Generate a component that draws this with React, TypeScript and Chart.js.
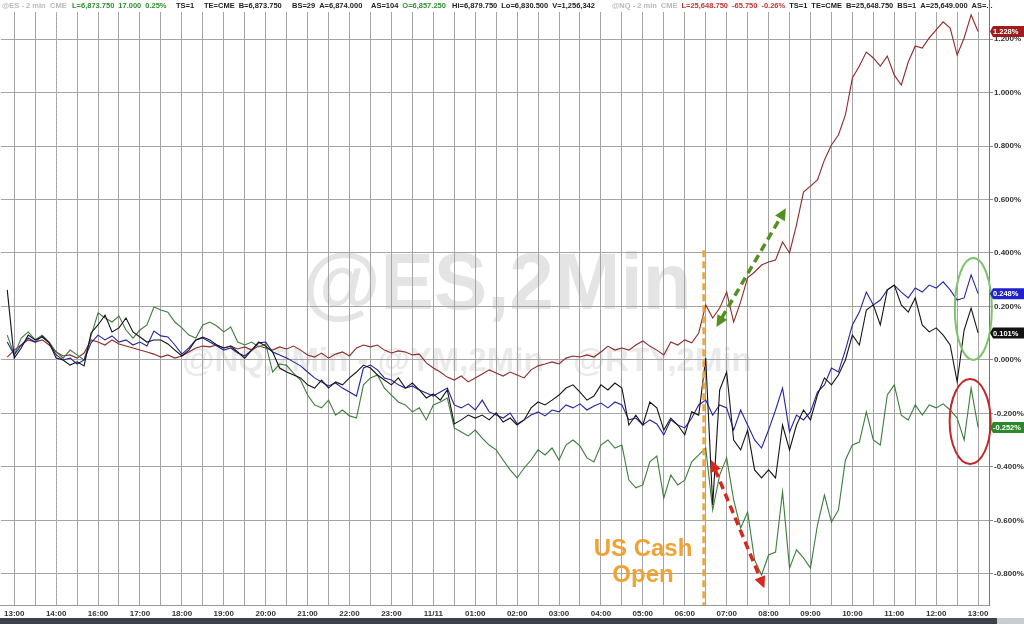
import React, { useEffect, useRef } from 'react';
import { Chart, registerables } from 'chart.js';

Chart.register(...registerables);

// ---- axis data ----
const hourLabels = ['13:00', '14:00', '16:00', '17:00', '18:00', '19:00', '20:00', '21:00', '22:00', '23:00', '11/11', '01:00', '02:00', '03:00', '04:00', '05:00', '06:00', '07:00', '08:00', '09:00', '10:00', '11:00', '12:00', '13:00'];
const yTickValues = [-0.8, -0.6, -0.4, -0.2, 0, 0.2, 0.4, 0.6, 0.8, 1.0, 1.2];
const T0 = -1 / 6; // first sample, in hour-slots from 13:00
const STEP = 1 / 6; // 10-minute samples

// ---- series (% change) ----
const nqValues = [
  0.011, 0.037, 0.056, 0.075, 0.067, 0.075, 0.056, 0.030, 0.015, 0.019,
  0.007, 0.026, 0.075, 0.067, 0.056, 0.075, 0.060, 0.052, 0.045, 0.037,
  0.030, 0.022, 0.011, 0.019, 0.007, 0.015, 0.030, 0.045, 0.052, 0.049,
  0.056, 0.045, 0.052, 0.041, 0.049, 0.037, 0.052, 0.045, 0.037, 0.049,
  0.041, 0.052, 0.037, 0.019, 0.011, 0.026, 0.007, 0.022, 0.030, 0.015,
  0.045, 0.056, 0.049, 0.056, 0.037, 0.026, 0.034, 0.030, 0.019, 0.022,
  -0.011, -0.030, -0.045, -0.064, -0.075, -0.060, -0.082, -0.067, -0.052, -0.037,
  -0.049, -0.060, -0.045, -0.056, -0.067, -0.037, -0.022, -0.015, -0.007, -0.015,
  0.007, 0.015, 0.011, 0.019, 0.011, 0.030, 0.052, 0.037, 0.045, 0.037,
  0.056, 0.071, 0.052, 0.037, 0.019, 0.067, 0.056, 0.075, 0.064, 0.101,
  0.206, 0.157, 0.194, 0.254, 0.142, 0.217, 0.307, 0.329, 0.355, 0.366,
  0.374, 0.441, 0.400, 0.505, 0.628, 0.650, 0.673, 0.748, 0.804, 0.841,
  0.916, 1.054, 1.099, 1.151, 1.129, 1.099, 1.136, 1.065, 1.028, 1.114,
  1.174, 1.166, 1.204, 1.234, 1.264, 1.241, 1.140, 1.204, 1.290, 1.228,
];

const esValues = [
  0.262, 0.007, 0.045, 0.093, 0.075, 0.086, 0.064, 0.007, 0.0, -0.019,
  -0.007, -0.022, 0.101, 0.131, 0.168, 0.105, 0.120, 0.157, 0.105, 0.086,
  0.067, 0.075, 0.075, 0.060, 0.037, 0.015, 0.037, 0.075, 0.086, 0.075,
  0.056, 0.045, 0.052, 0.030, 0.007, 0.037, 0.067, 0.052, 0.030, -0.030,
  -0.045, -0.056, -0.067, -0.093, -0.105, -0.075, -0.105, -0.082, -0.093, -0.067,
  -0.045, -0.019, -0.030, -0.056, -0.075, -0.093, -0.067, -0.105, -0.086, -0.112,
  -0.142, -0.127, -0.150, -0.112, -0.239, -0.224, -0.206, -0.217, -0.206, -0.224,
  -0.198, -0.232, -0.217, -0.243, -0.224, -0.179, -0.157, -0.168, -0.150, -0.131,
  -0.105, -0.093, -0.120, -0.150, -0.135, -0.093, -0.112, -0.086, -0.105, -0.243,
  -0.206, -0.243, -0.157, -0.179, -0.262, -0.217, -0.243, -0.280, -0.194, -0.206,
  0.007, -0.542, -0.112, -0.045, -0.299, -0.336, -0.262, -0.411, -0.441, -0.411,
  -0.441, -0.243, -0.336, -0.243, -0.187, -0.224, -0.131, -0.067, -0.093, -0.056,
  0.0, 0.093, 0.056, 0.187, 0.206, 0.131, 0.262, 0.280, 0.206, 0.179,
  0.232, 0.131, 0.105, 0.120, 0.093, 0.056, -0.082, 0.112, 0.194, 0.101,
];

const ymValues = [
  0.067, 0.019, 0.056, 0.082, 0.067, 0.090, 0.064, 0.019, 0.0, 0.007,
  -0.015, 0.0, 0.064, 0.093, 0.075, 0.090, 0.067, 0.075, 0.056, 0.067,
  0.052, 0.108, 0.090, 0.086, 0.056, 0.022, 0.045, 0.075, 0.082, 0.067,
  0.052, 0.037, 0.045, 0.026, 0.015, 0.037, 0.064, 0.067, 0.030, 0.019,
  0.007, -0.007, -0.022, -0.045, -0.067, -0.082, -0.097, -0.086, -0.105, -0.120,
  -0.135, -0.030, -0.019, -0.037, -0.067, -0.075, -0.093, -0.105, -0.097, -0.112,
  -0.123, -0.135, -0.120, -0.105, -0.168, -0.179, -0.164, -0.187, -0.150, -0.194,
  -0.206, -0.217, -0.198, -0.239, -0.224, -0.206, -0.194, -0.209, -0.187, -0.194,
  -0.168, -0.179, -0.164, -0.187, -0.172, -0.161, -0.179, -0.157, -0.168, -0.224,
  -0.217, -0.243, -0.224, -0.239, -0.280, -0.224, -0.243, -0.254, -0.217, -0.168,
  -0.150, -0.206, -0.168, -0.179, -0.262, -0.187, -0.243, -0.299, -0.329, -0.262,
  -0.187, -0.105, -0.269, -0.206, -0.224, -0.194, -0.120, -0.093, -0.030, -0.045,
  0.037, 0.131, 0.179, 0.254, 0.206, 0.224, 0.262, 0.280, 0.254, 0.232,
  0.269, 0.254, 0.280, 0.269, 0.292, 0.262, 0.224, 0.232, 0.318, 0.248,
];

const rtyValues = [
  0.093, 0.019, 0.082, 0.105, 0.075, 0.093, 0.067, 0.030, 0.007, 0.037,
  0.019, 0.0, 0.090, 0.176, 0.157, 0.142, 0.164, 0.112, 0.082, 0.112,
  0.131, 0.198, 0.187, 0.179, 0.142, 0.120, 0.093, 0.082, 0.131, 0.142,
  0.127, 0.105, 0.123, 0.067, 0.056, 0.067, 0.049, 0.060, -0.045, -0.015,
  -0.020, -0.050, -0.075, -0.131, -0.168, -0.179, -0.150, -0.206, -0.187, -0.209,
  -0.217, -0.093, -0.067, -0.056, -0.105, -0.131, -0.157, -0.168, -0.194, -0.179,
  -0.224, -0.168, -0.157, -0.142, -0.254, -0.269, -0.284, -0.262, -0.292, -0.318,
  -0.336, -0.374, -0.411, -0.441, -0.404, -0.374, -0.336, -0.355, -0.329, -0.374,
  -0.318, -0.299, -0.321, -0.366, -0.381, -0.318, -0.299, -0.329, -0.318, -0.449,
  -0.478, -0.467, -0.381, -0.359, -0.516, -0.430, -0.467, -0.449, -0.381, -0.355,
  -0.329, -0.561, -0.430, -0.366, -0.523, -0.628, -0.568, -0.748, -0.804, -0.729,
  -0.718, -0.493, -0.778, -0.710, -0.740, -0.778, -0.617, -0.505, -0.606, -0.561,
  -0.374, -0.318, -0.307, -0.194, -0.299, -0.318, -0.131, -0.093, -0.206, -0.224,
  -0.168, -0.206, -0.168, -0.179, -0.164, -0.187, -0.217, -0.299, -0.105, -0.252,
];

const seriesNames = ['@ES', '@YM', '@RTY', '@NQ'];
const lineColors = ['#151515', '#24249e', '#3c7d3c', '#8e2b2b'];
const tagColors = ['#121212', '#2222cc', '#2a8a2a', '#9e1c1c'];

// ---- header line ----
const headerItems: [string, number, string][] = [
  ['@ES - 2 min', 2, '#b9b9b9'], ['CME', 50, '#b9b9b9'],
  ['L=6,873.750', 72, '#2f8f2f'], ['17.000', 118, '#2f8f2f'], ['0.25%', 142, '#2f8f2f'],
  ['TS=1', 176, '#222'], ['TE=CME', 204, '#222'], ['B=6,873.750', 237, '#222'], ['BS=29', 292, '#222'],
  ['A=6,874.000', 315, '#222'], ['AS=104', 371, '#222'], ['O=6,857.250', 401, '#2f8f2f'],
  ['Hi=6,879.750', 452, '#222'], ['Lo=6,830.500', 500, '#222'], ['V=1,256,342', 549, '#222'],
  ['@NQ - 2 min', 612, '#b9b9b9'], ['CME', 640, '#b9b9b9'],
  ['L=25,648.750', 663, '#c23434'], ['-65.750', 716, '#c23434'], ['-0.26%', 745, '#c23434'],
  ['TS=1', 774, '#222'], ['TE=CME', 800, '#222'], ['B=25,648.750', 832, '#222'], ['BS=1', 890, '#222'],
  ['A=25,649.000', 910, '#222'], ['AS=...', 968, '#222'],
];

const FONT = "'Liberation Sans', Arial, sans-serif";

function toPoints(values: number[]) {
  return values.map((v, i) => ({ x: T0 + i * STEP, y: v }));
}

function dashedArrow(ctx: CanvasRenderingContext2D, x1: number, y1: number, x2: number, y2: number, color: string) {
  const ang = Math.atan2(y2 - y1, x2 - x1);
  const head = 13;
  const c = Math.cos(ang), s = Math.sin(ang);
  ctx.save();
  ctx.strokeStyle = color;
  ctx.fillStyle = color;
  ctx.lineWidth = 3.5;
  ctx.setLineDash([8, 5]);
  ctx.beginPath();
  ctx.moveTo(x1 + c * head * 0.8, y1 + s * head * 0.8);
  ctx.lineTo(x2 - c * head * 0.8, y2 - s * head * 0.8);
  ctx.stroke();
  ctx.setLineDash([]);
  const drawHead = (x: number, y: number, a: number) => {
    ctx.beginPath();
    ctx.moveTo(x, y);
    ctx.lineTo(x - head * Math.cos(a - 0.45), y - head * Math.sin(a - 0.45));
    ctx.lineTo(x - head * Math.cos(a + 0.45), y - head * Math.sin(a + 0.45));
    ctx.closePath();
    ctx.fill();
  };
  drawHead(x2, y2, ang);
  drawHead(x1, y1, ang + Math.PI);
  ctx.restore();
}

const overlayPlugin = {
  id: 'overlay',
  beforeDraw(chart: any) {
    const { ctx, width, height } = chart;
    ctx.save();
    ctx.fillStyle = '#ffffff';
    ctx.fillRect(0, 0, width, height);
    ctx.textAlign = 'center';
    ctx.textBaseline = 'middle';
    ctx.fillStyle = '#e4e4e4';
    ctx.font = `bold 80px ${FONT}`;
    ctx.fillText('@ES,2Min', 497, 287);
    ctx.fillStyle = '#eaeaea';
    ctx.font = `bold 33px ${FONT}`;
    ctx.fillText('@NQ,2Min - @YM,2Min - @RTY,2Min', 467, 362);
    ctx.textAlign = 'left';
    ctx.font = `bold 7.5px ${FONT}`;
    let prevEnd = -100;
    headerItems.forEach(([t, x, c]) => {
      const px = Math.max(x, prevEnd + 4);
      ctx.fillStyle = c;
      ctx.fillText(t, px, 6);
      prevEnd = px + ctx.measureText(t).width;
    });
    ctx.restore();
  },
  beforeDatasetsDraw(chart: any) {
    const { ctx, chartArea, scales } = chart;
    const x = Math.round(scales.x.getPixelForValue(1)) + 0.5;
    ctx.save();
    ctx.strokeStyle = '#b0b0b0';
    ctx.lineWidth = 1;
    ctx.setLineDash([2, 2]);
    ctx.beginPath();
    ctx.moveTo(x, chartArea.top);
    ctx.lineTo(x, chartArea.bottom);
    ctx.stroke();
    ctx.restore();
  },
  afterDatasetsDraw(chart: any) {
    const { ctx, chartArea, scales } = chart;
    const xs = scales.x, ys = scales.y;
    ctx.save();
    // US cash open line
    const ox = xs.getPixelForValue(16.45);
    ctx.strokeStyle = '#f0a334';
    ctx.lineWidth = 2.5;
    ctx.setLineDash([7, 4]);
    ctx.beginPath();
    ctx.moveTo(ox, ys.getPixelForValue(0.41));
    ctx.lineTo(ox, chartArea.bottom);
    ctx.stroke();
    ctx.setLineDash([]);
    ctx.fillStyle = '#f0a334';
    ctx.font = `bold 24px ${FONT}`;
    ctx.textAlign = 'center';
    ctx.textBaseline = 'middle';
    ctx.fillText('US Cash', 643, 549);
    ctx.fillText('Open', 643, 575);
    ctx.restore();

    dashedArrow(ctx, xs.getPixelForValue(16.755), ys.getPixelForValue(0.123), xs.getPixelForValue(18.414), ys.getPixelForValue(0.567), '#54901f');
    dashedArrow(ctx, xs.getPixelForValue(16.63), ys.getPixelForValue(-0.374), xs.getPixelForValue(17.9), ys.getPixelForValue(-0.853), '#d8281e');

    ctx.save();
    ctx.lineWidth = 2;
    ctx.strokeStyle = '#7cc46c';
    ctx.beginPath();
    ctx.ellipse(xs.getPixelForValue(22.886), ys.getPixelForValue(0.191), 18.5, 51, 0, 0, Math.PI * 2);
    ctx.stroke();
    ctx.strokeStyle = '#c0282a';
    ctx.beginPath();
    ctx.ellipse(xs.getPixelForValue(22.81), ys.getPixelForValue(-0.23), 20.5, 42.5, 0, 0, Math.PI * 2);
    ctx.stroke();
    ctx.restore();
  },
  afterDraw(chart: any) {
    const { ctx, chartArea, scales, width } = chart;
    ctx.save();
    // right axis line up to the top edge
    ctx.strokeStyle = '#777';
    ctx.lineWidth = 1;
    ctx.beginPath();
    ctx.moveTo(Math.round(chartArea.right) + 0.5, 0);
    ctx.lineTo(Math.round(chartArea.right) + 0.5, chartArea.top);
    ctx.stroke();
    chart.data.datasets.forEach((ds: any, i: number) => {
      const last = ds.data[ds.data.length - 1].y;
      const y = scales.y.getPixelForValue(last);
      const x0 = chartArea.right + 1;
      ctx.fillStyle = tagColors[i];
      ctx.beginPath();
      ctx.moveTo(x0, y);
      ctx.lineTo(x0 + 3, y - 5.5);
      ctx.lineTo(width, y - 5.5);
      ctx.lineTo(width, y + 5.5);
      ctx.lineTo(x0 + 3, y + 5.5);
      ctx.closePath();
      ctx.fill();
      ctx.fillStyle = '#ffffff';
      ctx.font = `bold 7.5px ${FONT}`;
      ctx.textAlign = 'left';
      ctx.textBaseline = 'middle';
      ctx.fillText(last.toFixed(3) + '%', x0 + 3, y + 0.5);
    });
    // scroll bar
    ctx.fillStyle = '#3c424a';
    ctx.fillRect(0, 618, width, 6);
    ctx.fillStyle = '#c9cdd2';
    ctx.fillRect(997, 618, width - 997, 6);
    ctx.restore();
  },
};

export default function App() {
  const canvasRef = useRef<HTMLCanvasElement | null>(null);

  useEffect(() => {
    if (!canvasRef.current) return;
    const allValues = [esValues, ymValues, rtyValues, nqValues];
    const chart = new Chart(canvasRef.current, {
      type: 'line',
      data: {
        datasets: allValues.map((vals, i) => ({
          label: seriesNames[i],
          data: toPoints(vals),
          borderColor: lineColors[i],
          borderWidth: 1.1,
          pointRadius: 0,
          tension: 0,
          fill: false,
        })),
      },
      options: {
        animation: false,
        responsive: false,
        devicePixelRatio: 1,
        layout: { padding: { top: 12, left: 0, right: 0, bottom: 0 } },
        plugins: { legend: { display: false }, tooltip: { enabled: false } },
        scales: {
          x: {
            type: 'linear',
            min: -0.317,
            max: 23.26,
            afterBuildTicks: (scale: any) => {
              const ticks = [];
              for (let k = 0; k <= 46; k++) ticks.push({ value: k / 2 });
              scale.ticks = ticks;
            },
            afterFit: (scale: any) => { scale.height = 19; },
            ticks: {
              autoSkip: false,
              maxRotation: 0,
              padding: 4,
              color: '#333',
              font: { family: FONT, size: 8, weight: 'bold' },
              callback: (value: any) => {
                const h = Number(value);
                return Number.isInteger(h) ? hourLabels[h] : '';
              },
            },
            grid: { color: '#a4a4a4', lineWidth: 1, drawTicks: false },
            border: { display: true, color: '#999' },
          },
          y: {
            type: 'linear',
            position: 'right',
            min: -0.916,
            max: 1.301,
            afterBuildTicks: (scale: any) => {
              scale.ticks = yTickValues.map((v) => ({ value: v }));
            },
            afterFit: (scale: any) => { scale.width = 35; },
            ticks: {
              padding: 1,
              color: '#333',
              font: { family: FONT, size: 8, weight: 'bold' },
              callback: (value: any) => Number(value).toFixed(3) + '%',
            },
            grid: { color: '#a4a4a4', lineWidth: 1, tickLength: 4, tickColor: '#888' },
            border: { display: true, color: '#777' },
          },
        },
      },
      plugins: [overlayPlugin],
    } as any);
    return () => chart.destroy();
  }, []);

  return (
    <div style={{ position: 'fixed', left: 0, top: 0, width: 1024, height: 624, background: '#fff' }}>
      <canvas ref={canvasRef} width={1024} height={624} style={{ display: 'block' }} />
    </div>
  );
}
